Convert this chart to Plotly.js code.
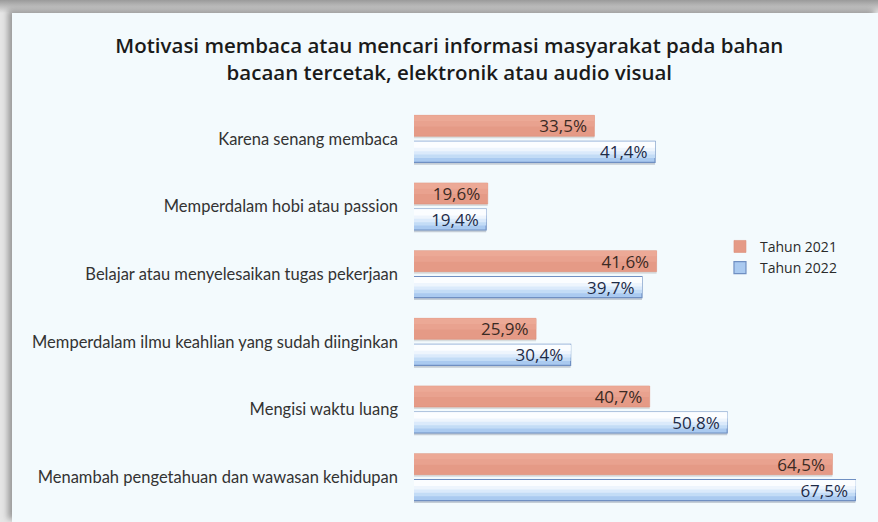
<!DOCTYPE html>
<html>
<head>
<meta charset="utf-8">
<script src="https://cdn.plot.ly/plotly-3.0.1.min.js"></script>
<style>
  html, body { margin:0; padding:0; width:878px; height:522px; overflow:hidden; background:#ffffff; }
  #frame { position:absolute; left:0; top:0; width:878px; height:522px;
           background: linear-gradient(to bottom, #9a9a9a 0px, #c9c9c9 8px, #e6e6e6 13px, #e6e6e6 100%); }
  #chart { position:absolute; left:12px; top:13px; width:866px; height:509px;
           box-shadow: -4px -3px 6px rgba(90,90,90,0.55); }
</style>
</head>
<body>
<div id="frame"></div>
<div id="chart"></div>
<script>
const categories = [
  "Karena senang membaca",
  "Memperdalam hobi atau passion",
  "Belajar atau menyelesaikan tugas pekerjaan",
  "Memperdalam ilmu keahlian yang sudah diinginkan",
  "Mengisi waktu luang",
  "Menambah pengetahuan dan wawasan kehidupan"
];
const values2021 = [33.5, 19.6, 41.6, 25.9, 40.7, 64.5];
const values2022 = [41.4, 19.4, 39.7, 30.4, 50.8, 67.5];
const seriesNames = ["Tahun 2021", "Tahun 2022"];

function layer(vals, offset, width, color, lineColor, lineWidth, extra) {
  return Object.assign({
    type: 'bar', orientation: 'h', y: categories, x: vals,
    offset: offset, width: width,
    marker: { color: color, line: { color: lineColor || 'rgba(0,0,0,0)', width: lineWidth || 0 } },
    showlegend: false, hoverinfo: 'skip'
  }, extra || {});
}

const traces = [
  // shadows
  layer(values2021, -0.037, 0.03, 'rgba(120,120,120,0.22)'),
  layer(values2022, 0.347, 0.035, 'rgba(110,120,140,0.35)'),
  // 2021 base + soft highlight
  layer(values2021, -0.347, 0.31, '#e59a86', '#dc8e79', 0.6,
        { name: seriesNames[0], showlegend: true, legendrank: 1 }),
  layer(values2021, -0.344, 0.16, '#e9a28f'),
  layer(values2021, -0.344, 0.08, '#eca996'),
  // 2022 base + gradient layers
  layer(values2022, 0.037, 0.31, '#aacaf0', '#6f8fc2', 1.2,
        { name: seriesNames[1], showlegend: true, legendrank: 2 }),
  layer(values2022, 0.042, 0.24, '#c3dcf6'),
  layer(values2022, 0.042, 0.19, '#dbeafb'),
  layer(values2022, 0.042, 0.14, '#eef5fd'),
  layer(values2022, 0.042, 0.09, '#fbfdff'),
  // value labels
  layer(values2021, -0.347, 0.31, 'rgba(0,0,0,0)', null, 0, {
    texttemplate: '%{x:.1f}% ', textposition: 'inside', insidetextanchor: 'end', constraintext: 'none',
    textfont: { family: 'Open Sans, sans-serif', size: 17, color: '#3b2a24' }
  }),
  layer(values2022, 0.037, 0.31, 'rgba(0,0,0,0)', null, 0, {
    texttemplate: '%{x:.1f}% ', textposition: 'inside', insidetextanchor: 'end', constraintext: 'none',
    textfont: { family: 'Open Sans, sans-serif', size: 17, color: '#1e2b47' }
  })
];

const layout = {
  width: 866, height: 509,
  paper_bgcolor: '#f3fafd', plot_bgcolor: 'rgba(0,0,0,0)',
  margin: { l: 402, r: 8, t: 92, b: 11 },
  separators: ',.',
  barmode: 'overlay',
  title: {
    text: 'Motivasi membaca atau mencari informasi masyarakat pada bahan<br>bacaan tercetak, elektronik atau audio visual',
    font: { family: 'Open Sans, sans-serif', size: 20.5, color: '#1a1a1a', weight: 600 },
    x: 0.505, xanchor: 'center', y: 0.921, yanchor: 'top'
  },
  xaxis: { range: [10, 69.4], showgrid: false, zeroline: false, showticklabels: false, showline: false, fixedrange: true },
  yaxis: {
    autorange: 'reversed', showgrid: false, zeroline: false, showline: false,
    ticks: '', ticklabelstandoff: 15,
    tickfont: { family: 'Lato, sans-serif', size: 16.5, color: '#333333' }
  },
  legend: {
    x: 0.671, y: 0.69, xanchor: 'left', yanchor: 'top',
    bgcolor: 'rgba(0,0,0,0)', traceorder: 'normal',
    font: { family: 'Open Sans, sans-serif', size: 14, color: '#2a2a2a' },
    itemwidth: 30, tracegroupgap: 4
  },
  showlegend: true
};

Plotly.newPlot('chart', traces, layout, { displayModeBar: false, staticPlot: true });
</script>
</body>
</html>
